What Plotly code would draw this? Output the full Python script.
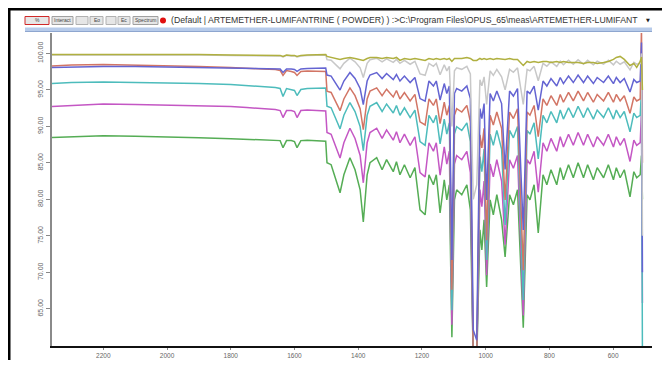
import plotly.graph_objects as go

# ---------------- data ----------------
wavenumber = [
    2365, 2300, 2200, 2100, 2000, 1900, 1800, 1750, 1700, 1660,
    1645, 1636, 1625, 1610, 1600, 1592, 1580, 1560, 1530, 1502,
    1498, 1485, 1465, 1457, 1445, 1426, 1410, 1394, 1384, 1372,
    1363, 1342, 1325, 1311, 1290, 1280, 1269, 1255, 1237, 1222,
    1206, 1190, 1178, 1164, 1155, 1143, 1130, 1122, 1114, 1106,
    1098, 1091, 1075, 1059, 1048, 1039, 1028, 1018, 1012, 1005,
    997, 986, 976, 965, 950, 939, 925, 913, 900, 882,
    870, 861, 848, 835, 820, 808, 795, 777, 766, 756,
    740, 725, 710, 693, 680, 662, 650, 630, 615, 599,
    590, 578, 565, 547, 535, 526, 515, 511, 508,
]

olive = [
    99.86, 99.86, 99.93, 99.86, 99.86, 99.86, 99.79, 99.79, 99.79, 99.79,
    99.73, 99.59, 99.79, 99.73, 99.73, 99.59, 99.73, 99.79, 99.86, 99.86,
    99.59, 99.45, 99.31, 99.18, 99.31, 99.45, 99.31, 99.18, 99.04, 99.31,
    99.45, 99.45, 99.31, 99.45, 99.31, 99.45, 99.04, 99.31, 99.18, 99.31,
    99.18, 99.04, 99.31, 99.18, 99.31, 99.18, 99.31, 99.18, 99.31, 98.90,
    99.31, 99.31, 99.31, 99.45, 99.31, 99.04, 99.04, 99.31, 99.18, 99.31,
    99.18, 99.31, 99.18, 99.31, 99.18, 99.18, 99.31, 99.18, 99.18, 98.35,
    98.90, 98.76, 98.90, 98.76, 98.90, 98.90, 98.76, 98.90, 98.76, 98.90,
    98.76, 98.76, 98.76, 98.63, 98.76, 98.76, 98.63, 98.76, 98.90, 99.18,
    99.45, 99.59, 99.18, 98.35, 98.63, 98.08, 98.90, 99.50, 95.00,
]

gray = [
    99.80, 99.80, 99.86, 99.80, 99.80, 99.80, 99.73, 99.73, 99.73, 99.73,
    99.66, 99.52, 99.73, 99.66, 99.66, 99.52, 99.66, 99.73, 99.80, 99.80,
    99.14, 99.06, 98.23, 97.90, 98.64, 99.34, 98.85, 98.03, 96.71, 98.64,
    99.14, 99.34, 98.85, 99.26, 98.77, 99.18, 98.64, 99.06, 98.52, 98.93,
    97.20, 97.00, 98.64, 98.23, 98.64, 97.08, 98.44, 97.61, 98.23, 90.00,
    97.61, 98.03, 97.82, 98.23, 97.20, 80.00, 82.00, 96.38, 95.56, 96.79,
    93.00, 97.61, 97.00, 97.82, 96.79, 95.00, 97.82, 97.41, 98.03, 93.00,
    97.82, 97.61, 98.23, 96.26, 98.64, 98.23, 98.85, 98.23, 98.93, 98.44,
    99.06, 98.52, 99.14, 98.52, 99.06, 98.44, 98.93, 98.52, 99.06, 98.44,
    98.93, 98.52, 98.85, 97.74, 98.77, 98.52, 98.64, 100.00, 75.00,
]

blue = [
    98.08, 98.15, 98.21, 98.21, 98.15, 98.08, 98.01, 97.94, 97.94, 97.94,
    97.87, 97.39, 97.87, 97.87, 97.80, 97.53, 97.87, 97.94, 98.01, 98.01,
    97.04, 96.90, 95.53, 94.98, 96.22, 97.38, 96.56, 95.19, 92.99, 96.22,
    97.04, 97.38, 96.56, 97.25, 96.42, 97.11, 96.22, 96.90, 96.01, 96.70,
    93.81, 93.47, 96.22, 95.53, 96.22, 93.61, 95.87, 94.50, 95.53, 71.70,
    94.50, 95.19, 94.84, 95.53, 93.81, 62.10, 60.70, 92.44, 91.06, 93.13,
    79.90, 94.50, 93.47, 94.84, 93.13, 84.10, 94.84, 94.16, 95.19, 75.80,
    94.84, 94.50, 95.53, 92.23, 96.22, 95.53, 96.56, 95.53, 96.70, 95.87,
    96.90, 96.01, 97.04, 96.01, 96.90, 95.87, 96.70, 96.01, 96.90, 95.87,
    96.70, 96.01, 96.56, 94.71, 96.42, 96.01, 96.22, 101.50, 70.00,
]

red = [
    98.28, 98.42, 98.49, 98.42, 98.35, 98.21, 98.08, 97.94, 97.87, 97.80,
    97.66, 96.98, 97.66, 97.53, 97.39, 96.98, 97.53, 97.60, 97.60, 97.53,
    94.83, 94.65, 92.87, 92.15, 93.76, 95.28, 94.21, 92.42, 89.56, 93.76,
    94.83, 95.28, 94.21, 95.10, 94.03, 94.92, 93.76, 94.65, 93.49, 94.38,
    90.63, 90.19, 93.76, 92.87, 93.76, 90.37, 93.31, 91.53, 92.87, 67.60,
    91.53, 92.42, 91.97, 92.87, 90.63, 58.00, 58.00, 88.85, 87.06, 89.74,
    74.40, 91.53, 90.19, 91.97, 89.74, 79.90, 91.97, 91.08, 92.42, 70.30,
    91.97, 91.53, 92.87, 88.58, 93.76, 92.87, 94.21, 92.87, 94.38, 93.31,
    94.65, 93.49, 94.83, 93.49, 94.65, 93.31, 94.38, 93.49, 94.65, 93.31,
    94.38, 93.49, 94.21, 91.79, 94.03, 93.49, 93.76, 103.50, 85.00,
]

cyan = [
    95.88, 96.02, 96.08, 96.02, 96.02, 95.88, 95.74, 95.60, 95.47, 95.33,
    95.19, 94.09, 95.19, 95.05, 94.92, 94.23, 95.05, 95.19, 95.26, 95.26,
    92.76, 92.55, 90.49, 89.66, 91.52, 93.27, 92.04, 89.97, 86.67, 91.52,
    92.76, 93.27, 92.04, 93.07, 91.83, 92.86, 91.52, 92.55, 91.21, 92.24,
    87.91, 87.40, 91.52, 90.49, 91.52, 87.60, 91.00, 88.94, 90.49, 64.80,
    88.94, 89.97, 89.46, 90.49, 87.91, 58.00, 58.00, 85.85, 83.79, 86.88,
    71.70, 88.94, 87.40, 89.46, 86.88, 76.50, 89.46, 88.43, 89.97, 66.20,
    89.46, 88.94, 90.49, 85.54, 91.52, 90.49, 92.04, 90.49, 92.24, 91.00,
    92.55, 91.21, 92.76, 91.21, 92.55, 91.00, 92.24, 91.21, 92.55, 91.00,
    92.24, 91.21, 92.04, 89.25, 91.83, 91.21, 91.52, 95.00, 58.00,
]

purple = [
    92.72, 92.86, 93.06, 92.99, 92.92, 92.86, 92.72, 92.58, 92.44, 92.31,
    92.17, 91.21, 92.17, 92.17, 92.03, 91.21, 92.17, 92.24, 92.17, 92.10,
    89.16, 88.93, 86.59, 85.66, 87.76, 89.75, 88.35, 86.01, 82.27, 87.76,
    89.16, 89.75, 88.35, 89.51, 88.11, 89.28, 87.76, 88.93, 87.41, 88.58,
    83.67, 83.09, 87.76, 86.59, 87.76, 83.32, 87.18, 84.84, 86.59, 62.80,
    84.84, 86.01, 85.43, 86.59, 83.67, 58.00, 58.00, 81.34, 79.00, 82.51,
    69.60, 84.84, 83.09, 85.43, 82.51, 73.80, 85.43, 84.26, 86.01, 64.10,
    85.43, 84.84, 86.59, 80.99, 87.76, 86.59, 88.35, 86.59, 88.58, 87.18,
    88.93, 87.41, 89.16, 87.41, 88.93, 87.18, 88.58, 87.41, 88.93, 87.18,
    88.58, 87.41, 88.35, 85.19, 88.11, 87.41, 87.76, 92.00, 65.80,
]

green = [
    88.46, 88.60, 88.73, 88.66, 88.60, 88.46, 88.32, 88.25, 88.18, 88.11,
    88.05, 87.08, 88.05, 88.05, 87.91, 87.08, 88.05, 88.11, 88.05, 87.98,
    85.02, 84.75, 82.00, 80.90, 83.37, 85.71, 84.06, 81.31, 76.92, 83.37,
    85.02, 85.71, 84.06, 85.44, 83.79, 85.16, 83.37, 84.75, 82.96, 84.34,
    78.57, 77.88, 83.37, 82.00, 83.37, 78.15, 82.69, 79.94, 82.00, 61.10,
    79.94, 81.31, 80.63, 82.00, 78.57, 58.00, 58.00, 75.82, 73.07, 77.19,
    68.00, 79.94, 77.88, 80.63, 77.19, 72.10, 80.63, 79.25, 81.31, 62.40,
    80.63, 79.94, 82.00, 75.41, 83.37, 82.00, 84.06, 82.00, 84.34, 82.69,
    84.75, 82.96, 85.02, 82.96, 84.75, 82.69, 84.34, 82.96, 84.75, 82.69,
    84.34, 82.96, 84.06, 80.35, 83.79, 82.96, 83.37, 86.00, 80.00,
]

x_ticks = [2200, 2000, 1800, 1600, 1400, 1200, 1000, 800, 600]
y_ticks = [65, 70, 75, 80, 85, 90, 95, 100]

header_text = r"(Default | ARTEMETHER-LUMIFANTRINE ( POWDER) ) :>C:\Program Files\OPUS_65\meas\ARTEMETHER-LUMIFANT"

series = [
    ("green", green, "#55ad55"),
    ("purple", purple, "#c457c4"),
    ("cyan", cyan, "#4dbcbc"),
    ("red", red, "#d27565"),
    ("blue", blue, "#6464d2"),
    ("gray", gray, "#c8c8c8"),
    ("olive", olive, "#b0b040"),
]

# ---------------- figure ----------------
# the page body has an 8px margin, so the figure is made smaller and every
# page position is shifted by -8
OFF = 8
W, H = 670 - OFF, 352
PL, PT, PR, PB = 52, 33, 652, 346          # plot box in page pixels
L, T = PL - OFF, PT - OFF
R, B = W - (PR - OFF), H - (PB - OFF)
PW, PH = W - L - R, H - T - B


def px(x):
    return (x - OFF - L) / PW


def py(y):
    return (H - B - (y - OFF)) / PH


fig = go.Figure()
for name, ys, col in series:
    fig.add_trace(go.Scatter(x=wavenumber, y=ys, mode="lines", name=name,
                             line=dict(color=col, width=1.5), showlegend=False))

shapes = []
# outer black frame (top + left)
shapes.append(dict(type="line", xref="paper", yref="paper", x0=px(8), x1=px(670),
                   y0=py(9), y1=py(9), line=dict(color="black", width=3)))
shapes.append(dict(type="line", xref="paper", yref="paper", x0=px(9), x1=px(9),
                   y0=py(8), y1=py(366), line=dict(color="black", width=3)))
# blue header bar
shapes.append(dict(type="rect", xref="paper", yref="paper", x0=px(25), x1=px(652),
                   y0=py(31.5), y1=py(27.5), fillcolor="#b7cbea", line=dict(width=0)))
shapes.append(dict(type="line", xref="paper", yref="paper", x0=px(25), x1=px(652),
                   y0=py(31.5), y1=py(31.5), line=dict(color="#8ea6cf", width=1)))

buttons = [(25, 49, "%", "#d02828"), (52, 73, "Interact", "#a0a0a0"),
           (76, 88, "", "#b0b0b0"), (90, 103, "Eo", "#b0b0b0"),
           (106, 116, "", "#b0b0b0"), (118, 130, "Ec", "#b0b0b0"),
           (133, 158, "Spectrum", "#a0a0a0")]
annotations = []
for x0, x1, lab, bc in buttons:
    shapes.append(dict(type="rect", xref="paper", yref="paper", x0=px(x0), x1=px(x1),
                       y0=py(24.5), y1=py(16.5), fillcolor="#e6e6e6",
                       line=dict(color=bc, width=1)))
    if lab:
        annotations.append(dict(xref="paper", yref="paper", x=px((x0 + x1) / 2), y=py(20.5),
                                xanchor="center", yanchor="middle",
                                text=lab, showarrow=False,
                                font=dict(size=5, color="#444", family="Liberation Sans")))
shapes.append(dict(type="circle", xref="paper", yref="paper", x0=px(160), x1=px(166),
                   y0=py(23.5), y1=py(17.5), fillcolor="#e01010", line=dict(width=0)))
annotations.append(dict(xref="paper", yref="paper", x=px(169), y=py(20.5),
                        xanchor="left", yanchor="middle",
                        text=header_text, showarrow=False,
                        font=dict(size=8.7, color="#333", family="Liberation Sans")))
annotations.append(dict(xref="paper", yref="paper", x=px(648), y=py(20.5),
                        xanchor="center", yanchor="middle",
                        text="▼", showarrow=False,
                        font=dict(size=5, color="#222", family="DejaVu Sans")))

fig.update_layout(
    width=W, height=H,
    margin=dict(l=L, r=R, t=T, b=B, pad=0, autoexpand=False),
    paper_bgcolor="white", plot_bgcolor="white",
    shapes=shapes, annotations=annotations,
    xaxis=dict(range=[2361, 478], tickvals=x_ticks, ticktext=[str(v) for v in x_ticks],
               automargin=False,
               showgrid=False, zeroline=False, showline=True, linecolor="#111", linewidth=1.5,
               ticks="outside", ticklen=2, tickcolor="#888",
               tickfont=dict(size=6.5, color="#666", family="Liberation Sans")),
    yaxis=dict(range=[59.9, 102.8], tickvals=y_ticks, ticktext=["%.2f" % v for v in y_ticks],
               automargin=False,
               tickangle=-90, showgrid=False, zeroline=False, showline=True,
               linecolor="#8a8a8a", linewidth=2, ticks="outside", ticklen=4, tickcolor="#888",
               tickfont=dict(size=7, color="#666", family="Liberation Sans")),
)

fig.write_html("out.html")
